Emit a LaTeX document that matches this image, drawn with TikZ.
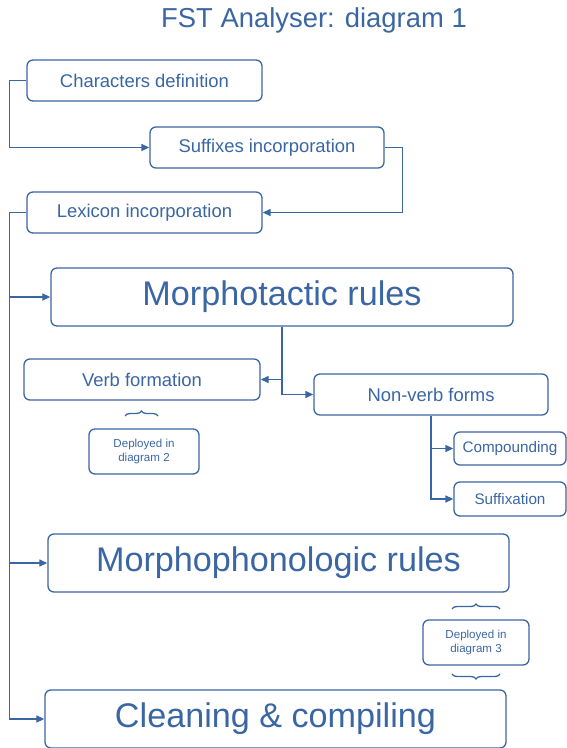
\documentclass[tikz,border=0pt]{standalone}
\usepackage{fontspec}
\setmainfont{Liberation Sans}
\usetikzlibrary{arrows.meta,decorations.pathreplacing}
\definecolor{db}{RGB}{58,102,163}
\begin{document}
\begin{tikzpicture}[x=1bp,y=-1bp,
  box/.style={draw=db,line width=1.3bp,rounded corners=6bp,text=db,inner sep=0pt,align=center},
  sbox/.style={box,font=\fontsize{18.5}{22}\selectfont},
  bbox/.style={box,font=\fontsize{34.3}{40}\selectfont},
  arr/.style={draw=db,line width=1.3bp,-{Triangle[length=8bp,width=7bp]}},
  ln/.style={draw=db,line width=1.3bp},
  brc/.style={draw=db,line width=1.3bp,decorate,decoration={brace,amplitude=5bp}}]
\useasboundingbox (0,0) rectangle (567,748);
\node[text=db,font=\fontsize{27.5}{32}\selectfont] (title) at (314,20) {FST Analyser: diagram 1};
\node[sbox,minimum width=235bp,minimum height=41bp] (chars) at (144.5,80.5) {Characters definition};
\node[sbox,minimum width=234bp,minimum height=41bp] (suff) at (267,147.5) {Suffixes incorporation};
\node[sbox,minimum width=235bp,minimum height=41bp] (lex) at (144.5,212.5) {Lexicon incorporation};
\node[bbox,minimum width=462bp,minimum height=58bp] (morpho) at (282,297) {Morphotactic rules};
\node[sbox,minimum width=236bp,minimum height=41bp] (verb) at (142,379.5) {Verb formation};
\node[sbox,minimum width=234bp,minimum height=41bp] (nonverb) at (431,394.5) {Non-verb forms};
\node[box,font=\fontsize{15.3}{18}\selectfont,minimum width=112bp,minimum height=33bp] (comp) at (510,448.5) {Compounding};
\node[box,font=\fontsize{15.3}{18}\selectfont,minimum width=112bp,minimum height=34bp] (suffx) at (510,499) {Suffixation};
\node[box,font=\fontsize{11.6}{14}\selectfont,minimum width=110bp,minimum height=45bp] (d2) at (144,451.5) {Deployed in\\diagram 2};
\node[bbox,minimum width=461bp,minimum height=58bp] (morphon) at (278.5,563) {Morphophonologic rules};
\node[box,font=\fontsize{11.6}{14}\selectfont,minimum width=106bp,minimum height=45bp] (d3) at (476,642.5) {Deployed in\\diagram 3};
\node[bbox,minimum width=461bp,minimum height=58bp] (clean) at (275.5,719) {Cleaning \& compiling};
% connectors
\draw[arr] (chars.west) -- ++(-17,0) |- (suff.west);
\draw[arr] (suff.east) -- ++(18,0) |- (lex.east);
\draw[arr] (lex.west) -- ++(-17,0) coordinate (t0) |- (clean.west);
\draw[arr] (t0 |- morpho.west) -- (morpho.west);
\draw[arr] (t0 |- morphon.west) -- (morphon.west);
\draw[arr] (morpho.south) |- (nonverb.west);
\draw[arr] (morpho.south |- verb.east) -- (verb.east);
\draw[arr] (nonverb.south) |- (suffx.west);
\draw[arr] (nonverb.south |- comp.west) -- (comp.west);
% braces
\coordinate (b1a) at (125,416); \coordinate (b1b) at (158,416);
\draw[brc] (b1a) -- (b1b);
\coordinate (b2a) at (452,609); \coordinate (b2b) at (500,609);
\draw[brc] (b2a) -- (b2b);
\coordinate (b3a) at (500,674); \coordinate (b3b) at (452,674);
\draw[brc] (b3a) -- (b3b);
\end{tikzpicture}
\end{document}
